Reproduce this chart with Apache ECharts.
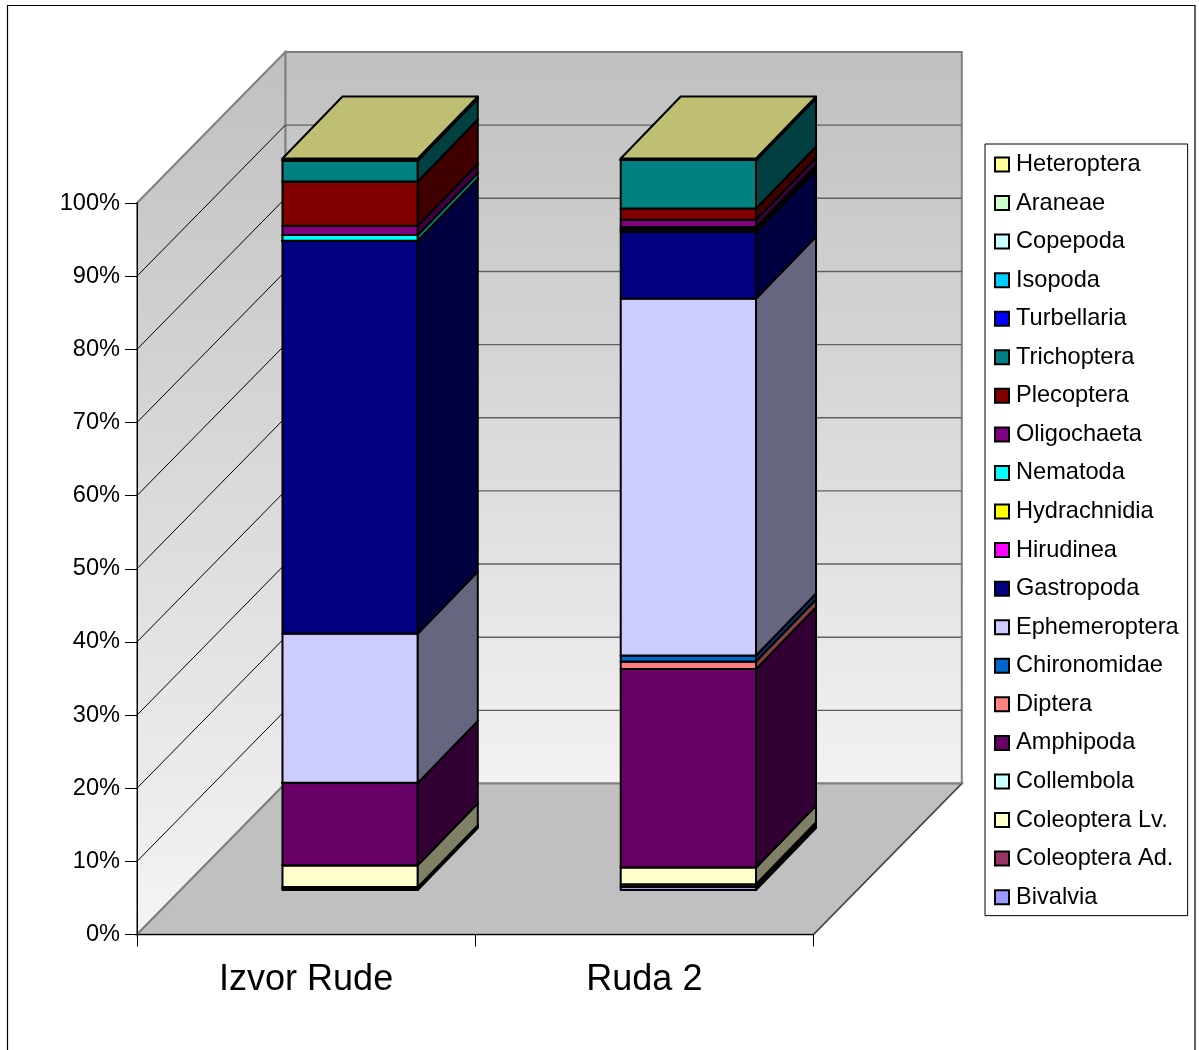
<!DOCTYPE html>
<html><head><meta charset="utf-8">
<style>html,body{margin:0;padding:0;background:#fff}#c{width:1199px;height:1050px}</style>
<script src="https://cdn.jsdelivr.net/npm/echarts@6/dist/echarts.min.js"></script>
</head><body><div id="c"></div>
<script>
const categories = ['Izvor Rude', 'Ruda 2'];
const yTicks = [0,10,20,30,40,50,60,70,80,90,100];
// stacking order, bottom to top
const taxa = ['Bivalvia','Coleoptera Ad.','Coleoptera Lv.','Collembola','Amphipoda','Diptera','Chironomidae','Ephemeroptera','Gastropoda','Hirudinea','Hydrachnidia','Nematoda','Oligochaeta','Plecoptera','Trichoptera','Turbellaria','Isopoda','Copepoda','Araneae','Heteroptera'];
const taxaColors = ['#9999FF','#993366','#FFFFCC','#CCFFFF','#660066','#FF8080','#0066CC','#CCCCFF','#000080','#FF00FF','#FFFF00','#00FFFF','#800080','#800000','#008080','#0000FF','#00CCFF','#CCFFFF','#CCFFCC','#FFFF99'];
const izvorRude = [0.2,0.2,3.0,0,11.25,0,0,20.4,53.7,0,0,0.8,1.25,6.05,2.9,0,0,0,0,0.25];
const ruda2     = [0.45,0.35,2.3,0,27.1,1.05,0.8,48.8,9.1,0.25,0.2,0.25,0.97,1.55,6.63,0,0,0,0,0.2];
const siteValues = [izvorRude, ruda2];

const shade = (hex, k) => {
  const n = parseInt(hex.slice(1), 16);
  const c = [n >> 16, (n >> 8) & 255, n & 255].map(v => Math.round(v * k));
  return `rgb(${c[0]},${c[1]},${c[2]})`;
};
const WALL = [148.3, -151];
const BAR_SHIFT = [44, -44.5];
const BAR_DEPTH = [60, -62];
const BAR_RATIO = 0.4;
const LINE = 2;

function wallItem(params, api) {
  const g = params.coordSys;
  const x0 = g.x, x1 = g.x + g.width, yT = g.y, yB = g.y + g.height;
  const dx = WALL[0], dy = WALL[1];
  const grad = new echarts.graphic.LinearGradient(0, yT + dy, 0, yB, [
    {offset: 0, color: '#C0C0C0'}, {offset: 1, color: '#F4F4F4'}], true);
  const gradBack = new echarts.graphic.LinearGradient(0, yT + dy, 0, yB + dy, [
    {offset: 0, color: '#C0C0C0'}, {offset: 1, color: '#F2F2F2'}], true);
  const wallStroke = {stroke: '#808080', lineWidth: 2};
  return {type: 'group', children: [
    {type: 'polygon', shape: {points: [[x0 + dx, yT + dy], [x1 + dx, yT + dy], [x1 + dx, yB + dy], [x0 + dx, yB + dy]]},
      style: Object.assign({fill: gradBack}, wallStroke)},
    {type: 'polygon', shape: {points: [[x0, yB], [x0, yT], [x0 + dx, yT + dy], [x0 + dx, yB + dy]]},
      style: Object.assign({fill: grad}, wallStroke)},
    {type: 'polygon', shape: {points: [[x0, yB], [x1, yB], [x1 + dx, yB + dy], [x0 + dx, yB + dy]]},
      style: Object.assign({fill: '#C0C0C0'}, wallStroke)},
    {type: 'line', shape: {x1: x1, y1: yB, x2: x1 + dx, y2: yB + dy}, style: {stroke: '#202020', lineWidth: 1}}
  ]};
}
function gridItem(params, api) {
  const g = params.coordSys;
  const y = api.coord([0, api.value(0)])[1];
  const x0 = g.x, x1 = g.x + g.width, dx = WALL[0], dy = WALL[1];
  const v = api.value(0);
  const kids = [];
  if (v > 0 && v < 100) {
    kids.push({type: 'line', shape: {x1: x0, y1: y, x2: x0 + dx, y2: y + dy}, style: {stroke: '#000', lineWidth: 1}});
    kids.push({type: 'line', shape: {x1: x0 + dx, y1: y + dy, x2: x1 + dx, y2: y + dy}, style: {stroke: '#606060', lineWidth: 1.4}});
  }
  return {type: 'group', children: kids};
}
function boxItem(color) {
  return function (params, api) {
    const cat = api.value(0);
    const half = api.size([1, 0])[0] * BAR_RATIO / 2;
    const lo = api.coord([cat, api.value(1)]);
    const hi = api.coord([cat, api.value(2)]);
    const cx = lo[0] + BAR_SHIFT[0];
    const yLo = lo[1] + BAR_SHIFT[1], yHi = hi[1] + BAR_SHIFT[1];
    const L = cx - half, R = cx + half, dx = BAR_DEPTH[0], dy = BAR_DEPTH[1];
    const st = f => ({fill: f, stroke: '#000', lineWidth: LINE, lineJoin: 'round'});
    return {type: 'group', children: [
      {type: 'polygon', shape: {points: [[L, yLo], [R, yLo], [R, yHi], [L, yHi]]}, style: st(color)},
      {type: 'polygon', shape: {points: [[R, yLo], [R + dx, yLo + dy], [R + dx, yHi + dy], [R, yHi]]}, style: st(shade(color, 0.5))},
      {type: 'polygon', shape: {points: [[L, yHi], [R, yHi], [R + dx, yHi + dy], [L + dx, yHi + dy]]}, style: st(shade(color, 0.75))}
    ]};
  };
}
const stackSeries = taxa.map((name, i) => {
  const data = categories.map((_, c) => {
    const start = siteValues[c].slice(0, i).reduce((a, b) => a + b, 0);
    return [c, start, start + siteValues[c][i]];
  });
  return {type: 'custom', name, coordinateSystem: 'cartesian2d', z: 4 + i, silent: true,
    itemStyle: {color: taxaColors[i], borderColor: '#000', borderWidth: 1.5},
    encode: {x: 0, y: [1, 2]}, data, renderItem: boxItem(taxaColors[i])};
});

const chart = echarts.init(document.getElementById('c'), null, {renderer: 'canvas'});
chart.setOption({
  animation: false,
  backgroundColor: '#fff',
  textStyle: {fontFamily: 'Liberation Sans'},
  graphic: [{type: 'rect', z: -10, shape: {x: 7.5, y: 5.5, width: 1187.5, height: 1100},
    style: {fill: 'none', stroke: '#000', lineWidth: 1.2}, silent: true}],
  grid: {left: 137, width: 676.5, top: 203, height: 731.5, containLabel: false},
  xAxis: {type: 'category', data: categories, z: 3,
    axisLine: {lineStyle: {color: '#000', width: 1}},
    axisTick: {show: true, length: 12, alignWithLabel: false, lineStyle: {color: '#000'}},
    axisLabel: {fontSize: 36, color: '#000', margin: 28, fontFamily: 'Liberation Sans'},
    splitLine: {show: false}},
  yAxis: {type: 'value', min: 0, max: 100, interval: 10, z: 3,
    axisLine: {show: true, lineStyle: {color: '#000', width: 1}},
    axisTick: {show: true, length: 12, lineStyle: {color: '#000'}},
    axisLabel: {fontSize: 23.6, color: '#000', margin: 17, formatter: '{value}%', fontFamily: 'Liberation Sans'},
    splitLine: {show: false}},
  legend: {
    orient: 'vertical', left: 985, top: 144,
    data: taxa.slice().reverse(),
    icon: 'rect', itemWidth: 14, itemHeight: 14, itemGap: 14.56,
    padding: [8.5, 9, 6.5, 9], backgroundColor: '#fff', borderColor: '#000', borderWidth: 1,
    selectedMode: false, align: 'left',
    textStyle: {fontSize: 23.6, color: '#000', padding: [0, 0, 0, 2], lineHeight: 24, fontFamily: 'Liberation Sans'}
  },
  series: [
    {type: 'custom', coordinateSystem: 'cartesian2d', z: 1, silent: true, data: [[0]], encode: {x: -1, y: -1}, renderItem: wallItem},
    {type: 'custom', coordinateSystem: 'cartesian2d', z: 2, silent: true, data: yTicks.map(v => [v]), encode: {x: -1, y: 0}, renderItem: gridItem}
  ].concat(stackSeries)
});
</script>
</body></html>
